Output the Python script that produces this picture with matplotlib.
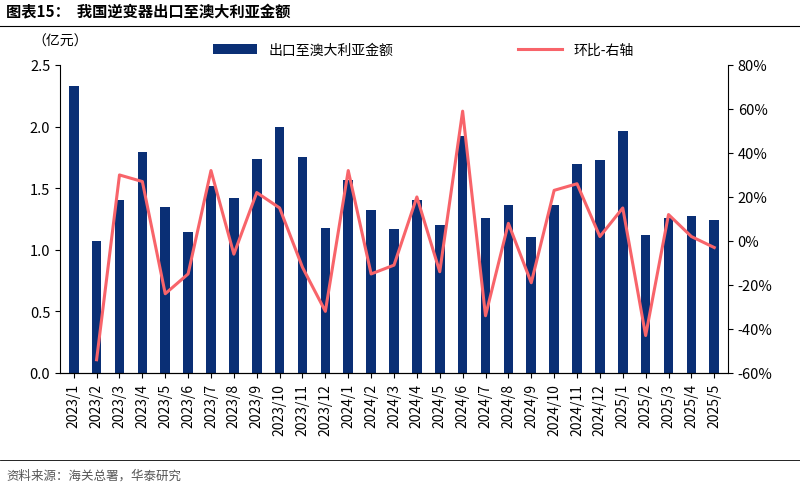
import matplotlib.pyplot as plt
from matplotlib.ticker import FuncFormatter

plt.rcParams['font.family'] = ['Noto Sans CJK SC', 'DejaVu Sans']

months = ['2023/1', '2023/2', '2023/3', '2023/4', '2023/5', '2023/6', '2023/7', '2023/8',
          '2023/9', '2023/10', '2023/11', '2023/12', '2024/1', '2024/2', '2024/3', '2024/4',
          '2024/5', '2024/6', '2024/7', '2024/8', '2024/9', '2024/10', '2024/11', '2024/12',
          '2025/1', '2025/2', '2025/3', '2025/4', '2025/5']
export_value = [2.33, 1.07, 1.40, 1.79, 1.35, 1.14, 1.52, 1.42, 1.74, 2.00, 1.75, 1.18,
                1.57, 1.32, 1.17, 1.40, 1.20, 1.92, 1.26, 1.36, 1.10, 1.36, 1.70, 1.73,
                1.96, 1.12, 1.26, 1.27, 1.24]
mom = [None, -54, 30, 27, -24, -15, 32, -6, 22, 15, -12, -32, 32, -15, -11, 20, -14, 59,
       -34, 8, -19, 23, 26, 2, 15, -43, 12, 2, -3]

navy = '#0a2f75'
red = '#f8646a'

fig = plt.figure(figsize=(8, 4.85), dpi=100)
ax = fig.add_axes([0.075, 0.229, 0.835, 0.635])
x = list(range(len(months)))
ax.bar(x, export_value, width=0.42, color=navy, label='出口至澳大利亚金额')
ax.set_ylim(0, 2.5)
ax.set_yticks([0, 0.5, 1.0, 1.5, 2.0, 2.5])
ax.yaxis.set_major_formatter(FuncFormatter(lambda v, p: f'{v:.1f}'))
ax.set_xlim(-0.6, len(months) - 0.4)
ax.set_xticks(x)
ax.set_xticklabels(months, rotation=90, fontsize=10)
ax.tick_params(axis='y', labelsize=10.5)
for s in ['top', 'right']:
    ax.spines[s].set_visible(False)

ax2 = ax.twinx()
xs = [i for i, v in enumerate(mom) if v is not None]
ys = [v for v in mom if v is not None]
ax2.plot(xs, ys, color=red, linewidth=2.2, label='环比-右轴')
ax2.set_ylim(-60, 80)
ax2.set_yticks(range(-60, 81, 20))
ax2.yaxis.set_major_formatter(FuncFormatter(lambda v, p: f'{v:.0f}%'))
ax2.tick_params(axis='y', labelsize=10.5)
for s in ['top', 'left']:
    ax2.spines[s].set_visible(False)

fig.text(0.04, 0.905, '（亿元）', fontsize=10)
fig.legend(loc='upper left', bbox_to_anchor=(0.25, 0.935), ncol=2, frameon=False,
           fontsize=10, columnspacing=9, handlelength=3.2)
fig.text(0.008, 0.965, '图表15：  我国逆变器出口至澳大利亚金额', fontsize=11, fontweight='bold')
fig.add_artist(plt.Line2D([0, 1], [0.945, 0.945], color='black', linewidth=0.8))
fig.add_artist(plt.Line2D([0, 1], [0.05, 0.05], color='black', linewidth=0.6))
fig.text(0.008, 0.01, '资料来源：海关总署，华泰研究', fontsize=9, color='#555555')
fig.savefig('out.png')
